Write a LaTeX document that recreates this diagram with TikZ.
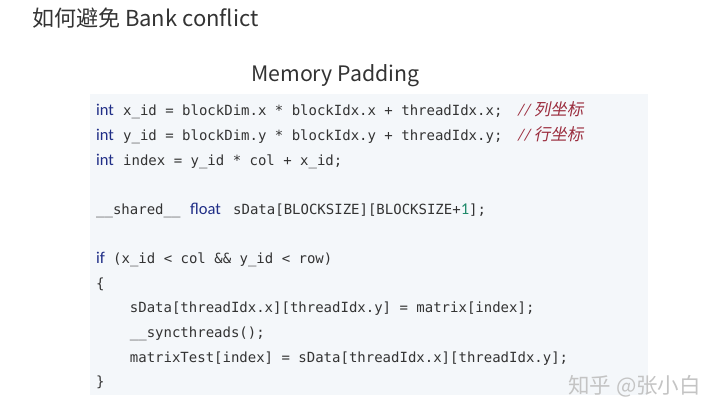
\documentclass[tikz,border=0pt]{standalone}
\usepackage{fontspec}
\setmainfont{Liberation Sans}
\newfontfamily\cjk{Noto Sans CJK SC}
\newfontfamily\cjkit[FakeSlant=0.2]{Noto Sans CJK SC}
\newfontfamily\codefont{DejaVu Sans Mono}
\newfontfamily\kwfont{Carlito}
\definecolor{txt}{HTML}{333333}
\definecolor{codecol}{HTML}{333333}
\definecolor{kwcol}{HTML}{1F2D86}
\definecolor{cmtcol}{HTML}{9B2D3E}
\definecolor{numcol}{HTML}{1F8A6A}
\definecolor{boxbg}{HTML}{F4F7FA}
\definecolor{wmcol}{HTML}{C4C4C4}
\tikzset{
  code/.style={anchor=base west, inner sep=0pt, text=codecol, font=\codefont\fontsize{14}{14}\selectfont},
  kw/.style={anchor=base west, inner sep=0pt, text=kwcol, font=\kwfont\fontsize{16.5}{16.5}\selectfont},
  cmt/.style={anchor=base west, inner sep=0pt, text=cmtcol, font=\fontsize{16.5}{16.5}\selectfont},
  heading/.style={anchor=base west, inner sep=0pt, text=txt},
}
\begin{document}
\begin{tikzpicture}[x=1pt,y=-1pt]
\useasboundingbox (0,0) rectangle (720,417);
\fill[white] (0,0) rectangle (720,417);
% title
\node[heading, font=\cjk\fontsize{22}{22}\selectfont] (title) at (32,27) {如何避免 Bank conflict};
\node[heading, font=\cjk\fontsize{21.3}{21.3}\selectfont] (sub) at (251,82) {Memory Padding};
% code box
\fill[boxbg] (90,94) rectangle (648,395);
% line 1
\node[kw] (k1) at (96,116) {int};
\node[code] (c1) at (123,116) {x\_id = blockDim.x * blockIdx.x + threadIdx.x;};
\node[cmt] (m1) at (518,116) {{\kwfont\itshape //}\,{\cjkit 列坐标}};
% line 2
\node[kw] (k2) at (96,140.6) {int};
\node[code] (c2) at (123,140.6) {y\_id = blockDim.y * blockIdx.y + threadIdx.y;};
\node[cmt] (m2) at (518,140.6) {{\kwfont\itshape //}\,{\cjkit 行坐标}};
% line 3
\node[kw] (k3) at (96,165.2) {int};
\node[code] (c3) at (123,165.2) {index = y\_id * col + x\_id;};
% line 4
\node[code] (c4a) at (96,214.4) {\_\_shared\_\_};
\node[kw] (k4) at (190,214.4) {float};
\node[code] (c4b) at (233,214.4) {sData[BLOCKSIZE][BLOCKSIZE+{\kwfont\fontsize{16.5}{16.5}\selectfont\color{numcol}1}];};
% line 5
\node[kw] (k5) at (96,263.6) {if};
\node[code] (c5) at (113,263.6) {(x\_id < col \&\& y\_id < row)};
% braces and body
\node[code] (c6) at (96,288.2) {\{};
\node[code] (c7) at (129.7,312.8) {sData[threadIdx.x][threadIdx.y] = matrix[index];};
\node[code] (c8) at (129.7,337.4) {\_\_syncthreads();};
\node[code] (c9) at (129.7,362) {matrixTest[index] = sData[threadIdx.x][threadIdx.y];};
\node[code] (c10) at (96,386.6) {\}};
% watermark
\node[anchor=base west, inner sep=0pt, text=wmcol, font=\cjk\fontsize{21.5}{21.5}\selectfont] (wm) at (568,393) {知乎 @张小白};
\end{tikzpicture}
\end{document}
